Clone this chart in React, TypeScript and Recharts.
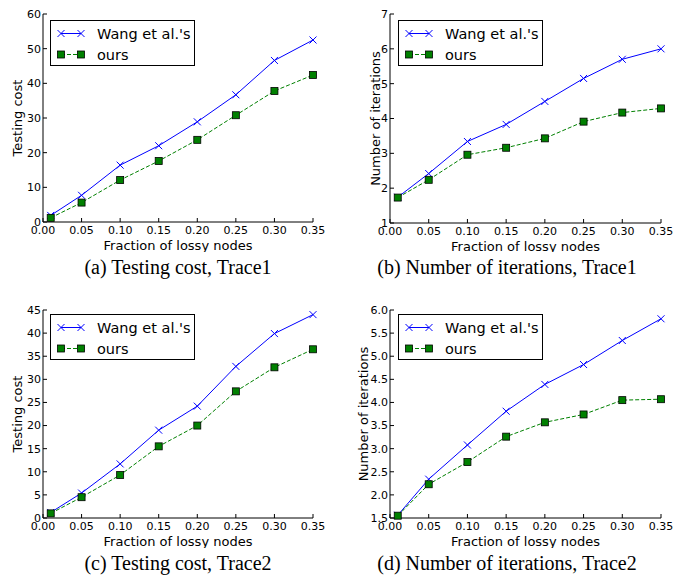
// Four small line charts: testing cost / iterations vs fraction of lossy nodes, two traces
import { CartesianGrid, Legend, Line, LineChart, XAxis, YAxis } from 'recharts'

const fraction = [0.01, 0.05, 0.1, 0.15, 0.2, 0.25, 0.3, 0.35]
const fractionTicks = [0, 0.05, 0.1, 0.15, 0.2, 0.25, 0.3, 0.35]

const costTrace1Wang = [1.9, 7.7, 16.4, 22.0, 28.9, 36.7, 46.6, 52.5]
const costTrace1Ours = [1.2, 5.6, 12.1, 17.6, 23.7, 30.8, 37.8, 42.4]
const iterTrace1Wang = [1.74, 2.42, 3.34, 3.83, 4.49, 5.15, 5.7, 6.0]
const iterTrace1Ours = [1.73, 2.24, 2.96, 3.16, 3.43, 3.91, 4.17, 4.29]
const costTrace2Wang = [1.2, 5.4, 11.7, 19.0, 24.2, 32.8, 39.9, 44.0]
const costTrace2Ours = [1.0, 4.5, 9.3, 15.5, 20.0, 27.4, 32.6, 36.5]
const iterTrace2Wang = [1.56, 2.34, 3.08, 3.81, 4.39, 4.82, 5.34, 5.81]
const iterTrace2Ours = [1.55, 2.23, 2.71, 3.26, 3.57, 3.74, 4.05, 4.07]

const costTicks1 = [0, 10, 20, 30, 40, 50, 60]
const iterTicks1 = [1, 2, 3, 4, 5, 6, 7]
const costTicks2 = [0, 5, 10, 15, 20, 25, 30, 35, 40, 45]
const iterTicks2 = [1.5, 2.0, 2.5, 3.0, 3.5, 4.0, 4.5, 5.0, 5.5, 6.0]

const BLUE = '#0000ff'
const GREEN = '#008000'
const FONT = '"DejaVu Sans", sans-serif'

function XMark({ cx, cy, size = 3.5 }: { cx: number; cy: number; size?: number }) {
  return (
    <g>
      <line x1={cx - size} y1={cy - size} x2={cx + size} y2={cy + size} stroke={BLUE} strokeWidth={1} />
      <line x1={cx - size} y1={cy + size} x2={cx + size} y2={cy - size} stroke={BLUE} strokeWidth={1} />
    </g>
  )
}

function SquareMark({ cx, cy, size = 3.5 }: { cx: number; cy: number; size?: number }) {
  return (
    <rect x={cx - size} y={cy - size} width={size * 2} height={size * 2} fill={GREEN} stroke="#000" strokeWidth={0.8} />
  )
}

function LegendBox() {
  const row = { display: 'flex', alignItems: 'center', height: 21 } as const
  return (
    <div
      style={{
        width: 145,
        height: 46,
        boxSizing: 'border-box',
        border: '1px solid #000',
        background: '#fff',
        paddingTop: 2,
        fontFamily: FONT,
        fontSize: 14.5,
      }}
    >
      <div style={row}>
        <svg width={46} height={21}>
          <line x1={10} y1={10.5} x2={30} y2={10.5} stroke={BLUE} strokeWidth={1} />
          <XMark cx={10} cy={10.5} />
          <XMark cx={30} cy={10.5} />
        </svg>
        <span>Wang et al.'s</span>
      </div>
      <div style={row}>
        <svg width={46} height={21}>
          <line x1={10} y1={10.5} x2={30} y2={10.5} stroke={GREEN} strokeWidth={1} strokeDasharray="4 2" />
          <SquareMark cx={10} cy={10.5} />
          <SquareMark cx={30} cy={10.5} />
        </svg>
        <span>ours</span>
      </div>
    </div>
  )
}

function XTitle(props: any) {
  const vb = props.viewBox
  return (
    <text x={vb.x + vb.width / 2} y={vb.y + 23} textAnchor="middle" dominantBaseline="central" fontSize={13} fontFamily={FONT} fill="#000">
      Fraction of lossy nodes
    </text>
  )
}

function YTitle(props: any) {
  const vb = props.viewBox
  const x = vb.x + props.titleX
  const y = vb.y + vb.height / 2
  return (
    <text x={x} y={y} transform={`rotate(-90 ${x} ${y})`} textAnchor="middle" dominantBaseline="central" fontSize={13} fontFamily={FONT} fill="#000">
      {props.title}
    </text>
  )
}

interface PanelProps {
  left: number
  top: number
  width: number
  height: number
  marginTop: number
  marginRight: number
  yAxisWidth: number
  xAxisHeight: number
  yTitleX: number
  yTitle: string
  yTicks: number[]
  yDigits: number
  wang: number[]
  ours: number[]
  legendLeft: number
  legendTop: number
}

function Panel(p: PanelProps) {
  const data = fraction.map((f, i) => ({ f, wang: p.wang[i], ours: p.ours[i] }))
  const yDomain = [p.yTicks[0], p.yTicks[p.yTicks.length - 1]]
  const tickStyle = { fontSize: 11, fontFamily: FONT, fill: '#000' }
  return (
    <div style={{ position: 'absolute', left: p.left, top: p.top }}>
      <LineChart
        width={p.width}
        height={p.height}
        data={data}
        margin={{ top: p.marginTop, right: p.marginRight, left: 0, bottom: 0 }}
        style={{ overflow: 'visible' }}
      >
        <CartesianGrid stroke="none" />
        <XAxis
          dataKey="f"
          type="number"
          domain={[0, 0.35]}
          ticks={fractionTicks}
          interval={0}
          tickFormatter={(v: number) => v.toFixed(2)}
          tick={tickStyle}
          tickSize={-4}
          tickMargin={8}
          height={p.xAxisHeight}
          stroke="#000"
          label={{ content: (lp: any) => <XTitle {...lp} /> }}
        />
        <XAxis
          xAxisId="top"
          orientation="top"
          type="number"
          domain={[0, 0.35]}
          allowDataOverflow
          ticks={fractionTicks}
          interval={0}
          tickFormatter={() => ''}
          tickSize={-4}
          height={0}
          stroke="#000"
        />
        <YAxis
          type="number"
          domain={yDomain}
          ticks={p.yTicks}
          interval={0}
          tickFormatter={(v: number) => v.toFixed(p.yDigits)}
          tick={tickStyle}
          tickSize={-4}
          tickMargin={6}
          width={p.yAxisWidth}
          stroke="#000"
          label={{ content: (lp: any) => <YTitle {...lp} title={p.yTitle} titleX={p.yTitleX} /> }}
        />
        <YAxis
          yAxisId="right"
          orientation="right"
          type="number"
          domain={yDomain}
          allowDataOverflow
          ticks={p.yTicks}
          interval={0}
          tickFormatter={() => ''}
          tickSize={-4}
          width={0}
          stroke="#000"
        />
        <Legend
          layout="vertical"
          align="center"
          verticalAlign="middle"
          content={() => <LegendBox />}
          wrapperStyle={{ left: p.legendLeft, top: p.legendTop, width: 'auto', height: 'auto' }}
        />
        <Line
          dataKey="wang"
          stroke={BLUE}
          strokeWidth={1}
          isAnimationActive={false}
          dot={(d: any) => <XMark key={`w${d.index}`} cx={d.cx} cy={d.cy} />}
          activeDot={false}
        />
        <Line
          dataKey="ours"
          stroke={GREEN}
          strokeWidth={1}
          strokeDasharray="4 2"
          isAnimationActive={false}
          dot={(d: any) => <SquareMark key={`o${d.index}`} cx={d.cx} cy={d.cy} />}
          activeDot={false}
        />
      </LineChart>
    </div>
  )
}

const captionStyle = {
  position: 'absolute',
  width: 300,
  textAlign: 'center',
  fontFamily: '"Liberation Serif", "Times New Roman", serif',
  fontSize: 20,
  lineHeight: '24px',
  color: '#000',
} as const

export default function App() {
  return (
    <div style={{ position: 'absolute', left: 0, top: 0, width: 675, height: 575, background: '#fff', overflow: 'hidden' }}>
      <Panel
        left={0} top={0} width={337} height={252} marginTop={14} marginRight={24}
        yAxisWidth={43} xAxisHeight={30} yTitleX={17} yTitle="Testing cost"
        yTicks={costTicks1} yDigits={0} wang={costTrace1Wang} ours={costTrace1Ours}
        legendLeft={50} legendTop={20}
      />
      <Panel
        left={337} top={0} width={338} height={252} marginTop={14} marginRight={14}
        yAxisWidth={53} xAxisHeight={29} yTitleX={38} yTitle="Number of iterations"
        yTicks={iterTicks1} yDigits={0} wang={iterTrace1Wang} ours={iterTrace1Ours}
        legendLeft={61} legendTop={20}
      />
      <Panel
        left={0} top={290} width={337} height={258} marginTop={20} marginRight={24}
        yAxisWidth={43} xAxisHeight={30} yTitleX={17} yTitle="Testing cost"
        yTicks={costTicks2} yDigits={0} wang={costTrace2Wang} ours={costTrace2Ours}
        legendLeft={50} legendTop={24}
      />
      <Panel
        left={337} top={290} width={338} height={258} marginTop={20} marginRight={14}
        yAxisWidth={53} xAxisHeight={30} yTitleX={26} yTitle="Number of iterations"
        yTicks={iterTicks2} yDigits={1} wang={iterTrace2Wang} ours={iterTrace2Ours}
        legendLeft={61} legendTop={24}
      />
      <div style={{ ...captionStyle, left: 28, top: 255 }}>(a) Testing cost, Trace1</div>
      <div style={{ ...captionStyle, left: 357, top: 255 }}>(b) Number of iterations, Trace1</div>
      <div style={{ ...captionStyle, left: 28, top: 551 }}>(c) Testing cost, Trace2</div>
      <div style={{ ...captionStyle, left: 357, top: 551 }}>(d) Number of iterations, Trace2</div>
    </div>
  )
}
